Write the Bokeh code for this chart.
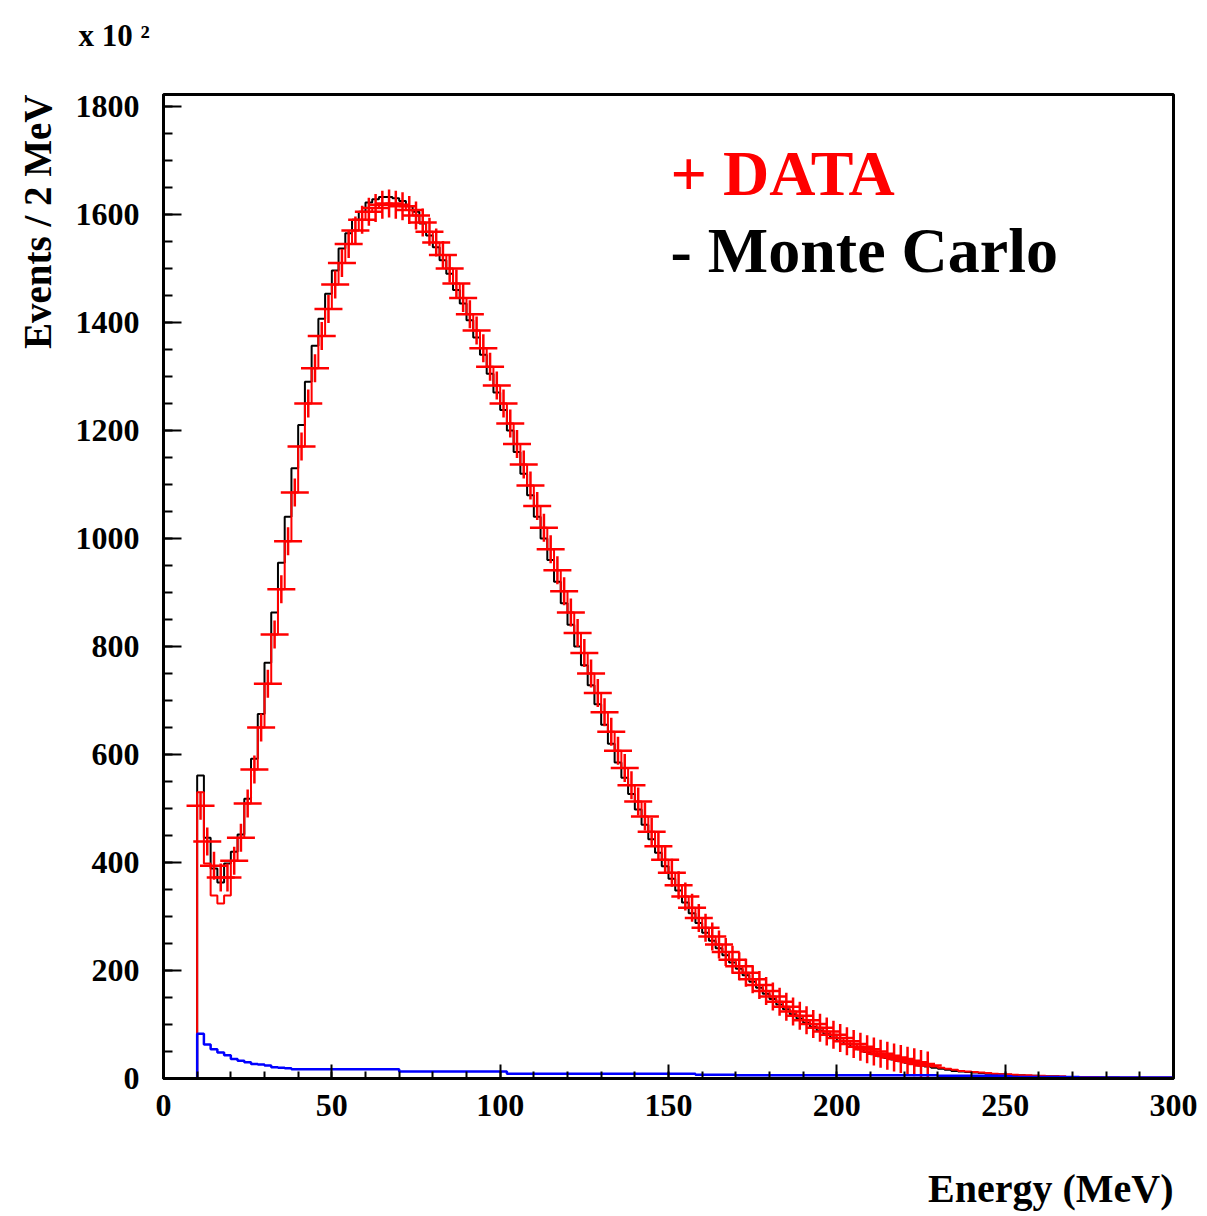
import math
import numpy as np
from bokeh.plotting import figure
from bokeh.models import Label, Range1d, FixedTicker, Title
from bokeh.embed import file_html
from bokeh.resources import INLINE

# ---- data (bins of 2 MeV starting at 10 MeV) ----
bin_start = 10
bin_width = 2
x_max = 300

# Monte Carlo (black histogram), bins 10..298
mc = [561, 446, 389, 363, 398, 420, 452, 518, 592, 675,
      770, 863, 955, 1040, 1130, 1210, 1290, 1357, 1407, 1453,
      1496, 1537, 1565, 1590, 1605, 1622, 1628, 1632, 1632, 1630,
      1625, 1615, 1605, 1583, 1561, 1539, 1515, 1490, 1460, 1435,
      1404, 1372, 1340, 1305, 1270, 1238, 1200, 1160, 1120, 1080,
      1040, 1000, 960, 920, 880, 840, 800, 765, 728, 693,
      655, 620, 585, 557, 527, 498, 470, 443, 418, 393,
      370, 348, 326, 306, 288, 270, 255, 241, 228, 215,
      203, 191, 179, 168, 157, 147, 137, 128, 119, 111,
      103, 96, 89, 82, 76, 70, 64, 59, 54, 49,
      45, 41, 38, 35, 32, 29, 27, 24, 22, 20,
      18, 16, 14, 13, 12, 11, 10, 9, 8, 8,
      7, 6, 6, 5, 5, 4, 4, 4, 3, 3,
      3, 3, 2, 2, 2, 2, 2, 1, 1, 1,
      1, 1, 1, 1, 1]

# Data points (red crosses), bins 10..226
data = [505, 439, 394, 372, 372, 403, 446, 509, 572, 650,
        731, 822, 906, 995, 1085, 1170, 1250, 1315, 1375, 1425,
        1470, 1510, 1545, 1570, 1590, 1605, 1612, 1618, 1620, 1618,
        1615, 1608, 1598, 1585, 1568, 1548, 1525, 1500, 1472, 1445,
        1415, 1385, 1352, 1318, 1283, 1250, 1213, 1175, 1137, 1098,
        1060, 1020, 980, 941, 902, 863, 825, 788, 750, 714,
        678, 642, 607, 575, 543, 513, 485, 457, 430, 405,
        381, 358, 337, 316, 297, 279, 263, 248, 234, 220,
        208, 196, 184, 173, 162, 152, 142, 133, 124, 116,
        108, 101, 94, 87, 81, 75, 69, 64, 59, 54,
        50, 46, 42, 39, 36, 33, 30, 27, 24]

# Red histogram line: differs from the crosses in the first bins, and continues past 226
data_hist_low = [530, 398, 339, 324, 339]
data_tail = [22, 20, 18, 16, 14, 13, 12, 11, 10, 9,
             8, 8, 7, 6, 6, 5, 5, 4, 4, 4,
             3, 3, 3, 3, 3, 2, 2, 2, 2, 2,
             2, 2, 2, 2, 2, 2]

# Background (blue histogram), bins 10..298
background = [83, 63, 54, 48, 43, 36, 33, 30, 27, 26,
              24, 21, 20, 19, 17, 17, 17, 17, 17, 17,
              17, 17, 17, 17, 17, 17, 17, 17, 17, 17,
              13, 13, 13, 13, 13, 13, 13, 13, 13, 13,
              13, 13, 13, 13, 13, 13, 9, 9, 9, 9,
              9, 9, 9, 9, 9, 9, 9, 9, 9, 9,
              9, 9, 9, 9, 9, 9, 9, 9, 9, 9,
              9, 9, 9, 9, 7, 7, 7, 7, 7, 7,
              6, 6, 6, 6, 6, 6, 6, 6, 6, 6,
              6, 6, 6, 6, 6, 6, 6, 6, 6, 6,
              6, 6, 6, 6, 6, 6, 6, 6, 6, 6,
              5, 5, 5, 5, 5, 5, 5, 5, 5, 5,
              4, 3, 3, 3, 3, 3, 3, 3, 3, 3,
              3, 2, 2, 2, 2, 2, 2, 2, 2, 2,
              2, 2, 2, 2, 2]

x_ticks = [0, 50, 100, 150, 200, 250, 300]
y_ticks = [0, 200, 400, 600, 800, 1000, 1200, 1400, 1600, 1800]
y_top = 1822

FONT = "Liberation Serif"


def step_xy(values):
    edges = [bin_start + bin_width * i for i in range(len(values))]
    xs = [bin_start] + edges + [bin_start + bin_width * len(values)]
    ys = [0] + list(values) + [values[-1]]
    return xs, ys


p = figure(frame_width=1010, frame_height=984,
           x_range=Range1d(0, x_max), y_range=Range1d(0, y_top),
           output_backend="svg", toolbar_location=None,
           min_border_left=163, min_border_right=34,
           min_border_top=94, min_border_bottom=138,
           background_fill_color="white", border_fill_color="white")

p.grid.visible = False
p.outline_line_color = "black"
p.outline_line_width = 3

for ax, ticks, minor, standoff in ((p.xaxis[0], x_ticks, list(range(0, 301, 10)), 16),
                                   (p.yaxis[0], y_ticks, list(range(0, 1801, 50)), 24)):
    ax.ticker = FixedTicker(ticks=ticks, minor_ticks=minor)
    ax.axis_line_width = 3
    ax.axis_line_color = "black"
    ax.major_tick_in = 14 if ax is p.xaxis[0] else 18
    ax.major_tick_out = 0
    ax.minor_tick_in = 7 if ax is p.xaxis[0] else 9
    ax.minor_tick_out = 0
    ax.major_tick_line_width = 2
    ax.minor_tick_line_width = 2
    ax.major_tick_line_color = "black"
    ax.minor_tick_line_color = "black"
    ax.major_label_text_font = FONT
    ax.major_label_text_font_style = "bold"
    ax.major_label_text_font_size = "32px"
    ax.major_label_text_color = "black"
    ax.major_label_standoff = standoff

# Monte Carlo
mx, my = step_xy(mc)
p.step(mx, my, mode="after", line_color="black", line_width=2)

# Data histogram line
red_vals = data_hist_low + data[len(data_hist_low):] + data_tail
rx, ry = step_xy(red_vals)
p.step(rx, ry, mode="after", line_color="red", line_width=2)

# Data crosses
cx = [bin_start + bin_width * (i + 0.5) for i in range(len(data))]
p.scatter(cx, data, marker="cross", size=28, line_color="red", line_width=2.5)

# Background
bx, by = step_xy(background)
p.step(bx, by, mode="after", line_color="blue", line_width=2.5)

# In-frame legend texts (screen units relative to the frame)
def add_label(text, x, y, size, color="black"):
    p.add_layout(Label(x=x, y=y, x_units="screen", y_units="screen", text=text,
                       text_font=FONT, text_font_style="bold", text_font_size=size,
                       text_color=color, text_align="left", text_baseline="alphabetic"))

add_label("+ DATA", 507, 905, "64px", color="red")
add_label("- Monte Carlo", 507, 828, "64px")

# Texts outside the frame as titles
def add_title(text, place, align, size, standoff=0, offset=0, valign="bottom"):
    p.add_layout(Title(text=text, align=align, text_font=FONT, text_font_style="bold",
                       text_font_size=size, text_color="black", vertical_align=valign,
                       standoff=standoff, offset=offset), place)

add_title("\nEnergy (MeV)", "below", "right", "40px", standoff=0)
add_title("Events / 2 MeV", "left", "right", "39px", standoff=27)
add_title("x 10 \u00b2\n", "above", "left", "31px", standoff=10, offset=-85, valign="top")

open("out.html", "w").write(file_html(p, INLINE))
